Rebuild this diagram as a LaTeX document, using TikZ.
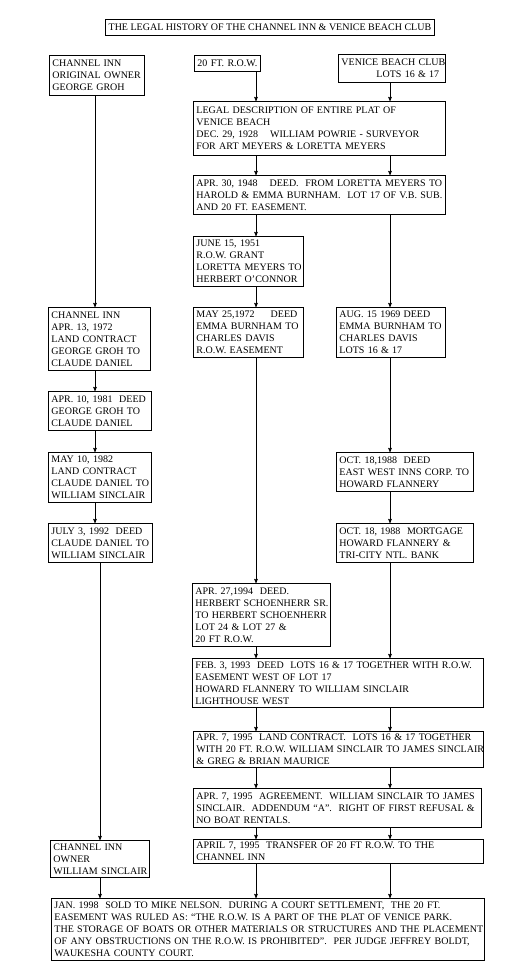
\documentclass[tikz,border=0pt]{standalone}
\usepackage{fontspec}
\setmainfont{Liberation Serif}
\usepackage{tikz}
\usetikzlibrary{arrows}

\begin{document}
\begin{tikzpicture}[x=1pt,y=-1pt]
			\tikzstyle{every node}=[draw,rectangle,anchor=north west,align=left,inner xsep=3pt,inner ysep=1pt,line width=0.9pt,font=\fontsize{10}{12}\selectfont]
			\useasboundingbox (0,0) rectangle (525,965);

			\coordinate (xl) at (95,0);
			\coordinate (xll) at (100,0);
			\coordinate (xm) at (256,0);
			\coordinate (xr) at (390,0);

			\node (title) at (105,19) [minimum width=329pt,minimum height=16pt] {THE LEGAL HISTORY OF THE CHANNEL INN \& VENICE BEACH CLUB};

			\node (owner) at (49,55) [text width=89pt,minimum height=40pt] {CHANNEL INN\\ORIGINAL OWNER\\GEORGE GROH};
			\node (row) at (194,55) [text width=60pt,minimum height=16pt] {\mbox{20 FT. R.O.W.}};
			\node (club) at (338,54) [text width=101pt,minimum height=28pt] {\mbox{VENICE BEACH CLUB}\\\hspace*{35pt}LOTS 16 \& 17};
			\node (plat) at (193,101) [text width=246pt,minimum height=54pt] {LEGAL DESCRIPTION OF ENTIRE PLAT OF\\VENICE BEACH\\DEC. 29, 1928\hspace{12pt}WILLIAM POWRIE - SURVEYOR\\FOR ART MEYERS \& LORETTA MEYERS};
			\node (deed48) at (193,175) [text width=246pt,minimum height=39pt] {APR. 30, 1948\hspace{12pt}DEED.\ \ FROM LORETTA MEYERS TO\\HAROLD \& EMMA BURNHAM.\ \ LOT 17 OF V.B. SUB.\\AND 20 FT. EASEMENT.};
			\node (jun51) at (193,236) [text width=104pt,minimum height=50pt] {JUNE 15, 1951\\R.O.W. GRANT\\\mbox{LORETTA MEYERS TO}\\HERBERT O'CONNOR};

			\node (inn72) at (48,307) [text width=96pt,minimum height=63pt] {CHANNEL INN\\APR. 13, 1972\\LAND CONTRACT\\GEORGE GROH TO\\CLAUDE DANIEL};
			\node (deed72) at (193,307) [text width=104pt,minimum height=50pt] {MAY 25,1972\hspace{16pt}DEED\\EMMA BURNHAM TO\\CHARLES DAVIS\\R.O.W. EASEMENT};
			\node (aug69) at (336,307) [text width=103pt,minimum height=50pt] {AUG. 15 1969 DEED\\EMMA BURNHAM TO\\CHARLES DAVIS\\LOTS 16 \& 17};
			\node (deed81) at (48,391) [text width=97pt,minimum height=39pt] {APR. 10, 1981\ \ DEED\\GEORGE GROH TO\\CLAUDE DANIEL};
			\node (lc82) at (48,452) [text width=97pt,minimum height=50pt] {MAY 10, 1982\\LAND CONTRACT\\\mbox{CLAUDE DANIEL TO}\\WILLIAM SINCLAIR};
			\node (deed88) at (336,452) [text width=131pt,minimum height=39pt] {OCT. 18,1988\ \ DEED\\EAST WEST INNS CORP. TO\\HOWARD FLANNERY};
			\node (deed92) at (48,523) [text width=98pt,minimum height=39pt] {JULY 3, 1992\ \ DEED\\CLAUDE DANIEL TO\\WILLIAM SINCLAIR};
			\node (mort88) at (336,523) [text width=131pt,minimum height=39pt] {OCT. 18, 1988\ \ MORTGAGE\\HOWARD FLANNERY \&\\TRI-CITY NTL. BANK};
			\node (deed94) at (192,583) [text width=132pt,minimum height=63pt] {APR. 27,1994\ \ DEED.\\\mbox{HERBERT SCHOENHERR SR.}\\\mbox{TO HERBERT SCHOENHERR}\\LOT 24 \& LOT 27 \&\\20 FT R.O.W.};

			\node (feb93) at (192,658) [text width=285pt,minimum height=49pt] {FEB. 3, 1993\ \ DEED\ \ LOTS 16 \& 17 TOGETHER WITH R.O.W.\\EASEMENT WEST OF LOT 17\\HOWARD FLANNERY TO WILLIAM SINCLAIR\\LIGHTHOUSE WEST};
			\node (lc95) at (193,731) [text width=284pt,minimum height=36pt] {APR. 7, 1995\ \ LAND CONTRACT.\ \ LOTS 16 \& 17 TOGETHER\\\mbox{WITH 20 FT. R.O.W.\ WILLIAM SINCLAIR TO JAMES SINCLAIR}\\\& GREG \& BRIAN MAURICE};
			\node (agr95) at (193,788) [text width=282pt,minimum height=39pt] {APR. 7, 1995\ \ AGREEMENT.\ \ WILLIAM SINCLAIR TO JAMES\\SINCLAIR.\ \ ADDENDUM ``A''.\ \ RIGHT OF FIRST REFUSAL \&\\NO BOAT RENTALS.};
			\node (owner95) at (50,840) [text width=93pt,minimum height=37pt] {CHANNEL INN\\OWNER\\\mbox{WILLIAM SINCLAIR}};
			\node (trans95) at (193,839) [text width=284pt,minimum height=24pt] {APRIL 7, 1995\ \ TRANSFER OF 20 FT R.O.W. TO THE\\CHANNEL INN};
			\node (sold98) at (51,898) [text width=427pt,minimum height=62pt] {JAN. 1998\ \ SOLD TO MIKE NELSON.\ \ DURING A COURT SETTLEMENT,\ \ THE 20 FT.\\EASEMENT WAS RULED AS: ``THE R.O.W. IS A PART OF THE PLAT OF VENICE PARK.\\\mbox{THE STORAGE OF BOATS OR OTHER MATERIALS OR STRUCTURES AND THE PLACEMENT}\\OF ANY OBSTRUCTIONS ON THE R.O.W. IS PROHIBITED''.\ \ PER JUDGE JEFFREY BOLDT,\\WAUKESHA COUNTY COURT.};

			\path[->,>=stealth',line width=0.6pt]
			(owner.south -| xl) edge (inn72.north -| xl)
			(inn72.south -| xl) edge (deed81.north -| xl)
			(deed81.south -| xl) edge (lc82.north -| xl)
			(lc82.south -| xl) edge (deed92.north -| xl)
			(deed92.south -| xll) edge (owner95.north -| xll)
			(owner95.south -| xll) edge (sold98.north -| xll);

			\path[->,>=stealth',line width=0.6pt]
			(row.south -| xm) edge (plat.north -| xm)
			(plat.south -| xm) edge (deed48.north -| xm)
			(deed48.south -| xm) edge (jun51.north -| xm)
			(jun51.south -| xm) edge (deed72.north -| xm)
			(deed72.south -| xm) edge (deed94.north -| xm)
			(deed94.south -| xm) edge (feb93.north -| xm)
			(feb93.south -| xm) edge (lc95.north -| xm)
			(lc95.south -| xm) edge (agr95.north -| xm)
			(agr95.south -| xm) edge (trans95.north -| xm)
			(trans95.south -| xm) edge (sold98.north -| xm);

			\path[->,>=stealth',line width=0.6pt]
			(club.south -| xr) edge (plat.north -| xr)
			(plat.south -| xr) edge (deed48.north -| xr)
			(deed48.south -| xr) edge (aug69.north -| xr)
			(aug69.south -| xr) edge (deed88.north -| xr)
			(deed88.south -| xr) edge (mort88.north -| xr)
			(mort88.south -| xr) edge (feb93.north -| xr)
			(feb93.south -| xr) edge (lc95.north -| xr)
			(lc95.south -| xr) edge (agr95.north -| xr)
			(agr95.south -| xr) edge (trans95.north -| xr)
			(trans95.south -| xr) edge (sold98.north -| xr);

		\end{tikzpicture}
\end{document}
